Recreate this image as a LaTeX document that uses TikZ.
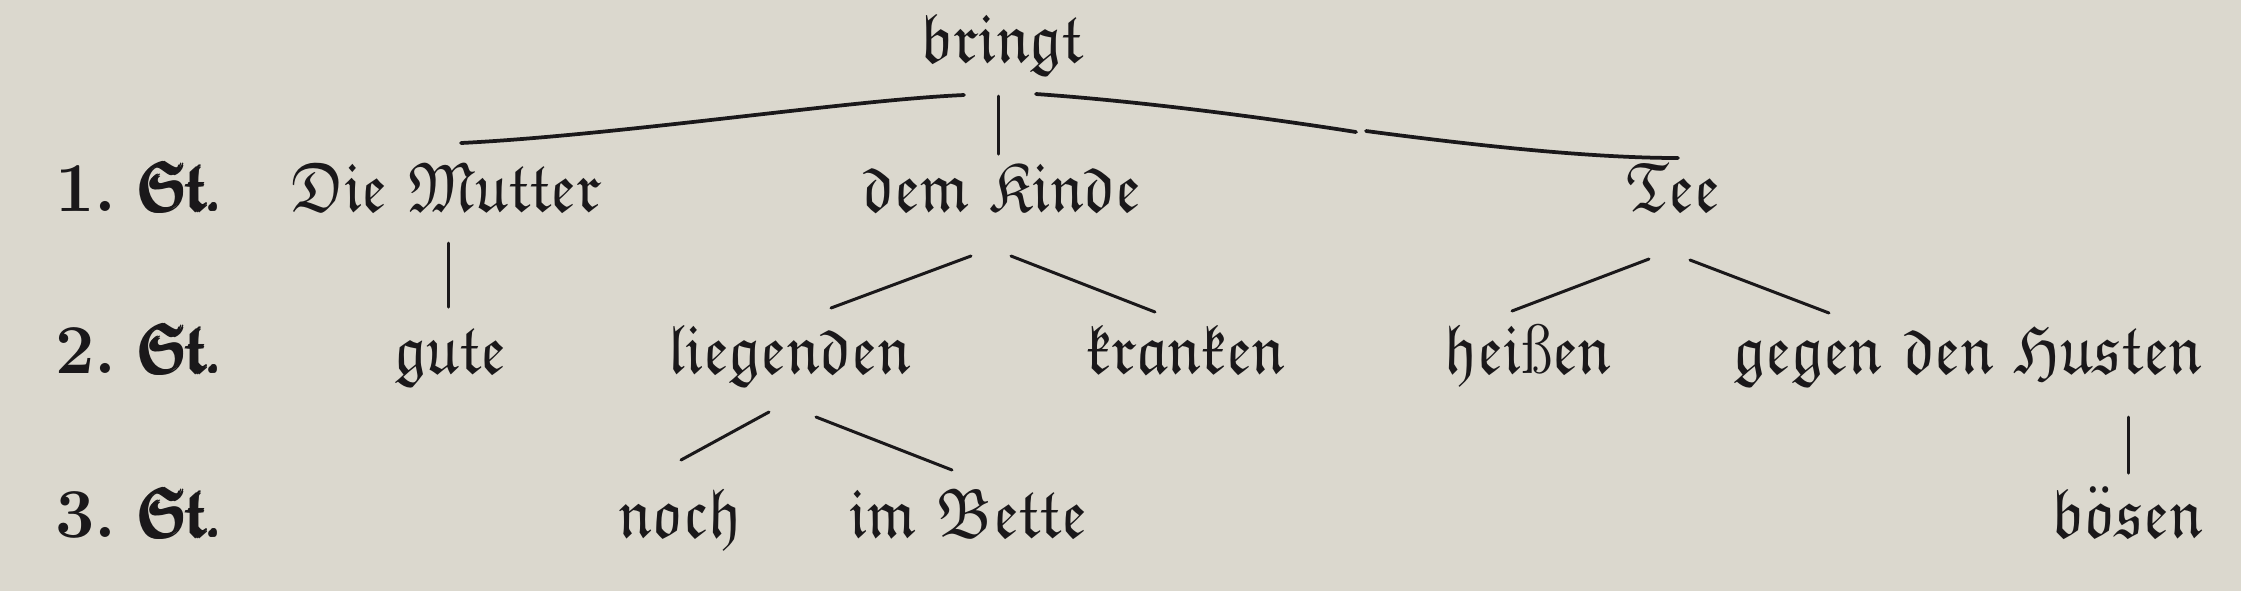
\documentclass[tikz,border=0pt]{standalone}
\usepackage{amsmath,amssymb,graphicx}
\definecolor{paper}{RGB}{219,216,206}
\definecolor{ink}{RGB}{26,24,26}
\newcommand\fr[1]{\ensuremath{\mathfrak{#1}}}
\newcommand\fkb[1]{\rlap{#1}\kern.3pt\rlap{#1}\kern.3pt\rlap{\raisebox{.25pt}{#1}}\kern.3pt\rlap{\raisebox{.25pt}{#1}}#1}
\newcommand\fw[1]{\scalebox{0.91}[1]{#1}}
\tikzset{
  word/.style={inner sep=0pt, anchor=base, text=ink, font=\fontsize{14}{16}\selectfont},
  level/.style={inner sep=0pt, anchor=base west, text=ink, font=\fontsize{14}{16}\selectfont},
  conn/.style={draw=ink, line width=0.6pt, line cap=round},
  arc/.style={draw=ink, line width=0.75pt, line cap=round}
}
\begin{document}
\begin{tikzpicture}[x=0.2pt,y=-0.2pt]
\fill[paper] (0,0) rectangle (2241,591);
\useasboundingbox (0,0) rectangle (2241,591);
% level labels
\node[level] (l1) at (54,211) {\textbf{1.}\hspace{4pt}\scalebox{0.82}[1]{\fkb{\fr{St.}}}};
\node[level] (l2) at (54,373) {\textbf{2.}\hspace{4pt}\scalebox{0.82}[1]{\fkb{\fr{St.}}}};
\node[level] (l3) at (54,537) {\textbf{3.}\hspace{4pt}\scalebox{0.82}[1]{\fkb{\fr{St.}}}};
% words
\node[word] (bringt) at (1002,62) {\fw{\fr{bringt}}};
\node[word] (mutter) at (446,211) {\fw{\fr{Die} \fr{Mutter}}};
\node[word] (kinde) at (1002,211) {\fw{\fr{dem} \fr{Kinde}}};
\node[word] (tee) at (1673,211) {\fw{\fr{Tee}}};
\node[word] (gute) at (450,373) {\fw{\fr{gute}}};
\node[word] (liegenden) at (789,373) {\fw{\fr{liegenden}}};
\node[word] (kranken) at (1186,373) {\fw{\fr{kranken}}};
\node[word] (heissen) at (1528,373) {\fw{\fr{hei}ß\fr{en}}};
\node[word,anchor=base east] (husten) at (2203,373) {\fw{\fr{gegen} \fr{den} \fr{Husten}}};
\node[word] (noch) at (680,537) {\fw{\fr{noch}}};
\node[word] (bette) at (968,537) {\fw{\fr{im} \fr{Bette}}};
\node[word] (boesen) at (2127,537) {\fw{\fr{b\ddot{o}sen}}};
% connector end points
\coordinate (bL) at (964,95);   \coordinate (mT) at (461,143);
\coordinate (bM) at (998,96);   \coordinate (kT) at (998,154);
\coordinate (bR) at (1036,94);  \coordinate (rK1) at (1356,132);
\coordinate (rK2) at (1366,131); \coordinate (tT) at (1678,158);
\coordinate (mB) at (448,243);  \coordinate (gT) at (448,307);
\coordinate (kB1) at (971,256); \coordinate (lT) at (831,308);
\coordinate (kB2) at (1011,256); \coordinate (krT) at (1155,312);
\coordinate (tB1) at (1649,259); \coordinate (hT) at (1512,311);
\coordinate (tB2) at (1690,260); \coordinate (huT) at (1829,313);
\coordinate (lB1) at (769,412); \coordinate (nT) at (681,460);
\coordinate (lB2) at (816,417); \coordinate (beT) at (952,470);
\coordinate (huB) at (2128,417); \coordinate (boT) at (2128,473);
% connectors
\draw[arc] (bL) .. controls (850,100) and (620,135) .. (mT);
\draw[conn] (bM) -- (kT);
\draw[arc] (bR) .. controls (1150,102) and (1280,120) .. (rK1);
\draw[arc] (rK2) .. controls (1450,142) and (1580,158) .. (tT);
\draw[conn] (mB) -- (gT);
\draw[conn] (kB1) -- (lT);
\draw[conn] (kB2) -- (krT);
\draw[conn] (tB1) -- (hT);
\draw[conn] (tB2) -- (huT);
\draw[conn] (lB1) -- (nT);
\draw[conn] (lB2) -- (beT);
\draw[conn] (huB) -- (boT);
\end{tikzpicture}
\end{document}
